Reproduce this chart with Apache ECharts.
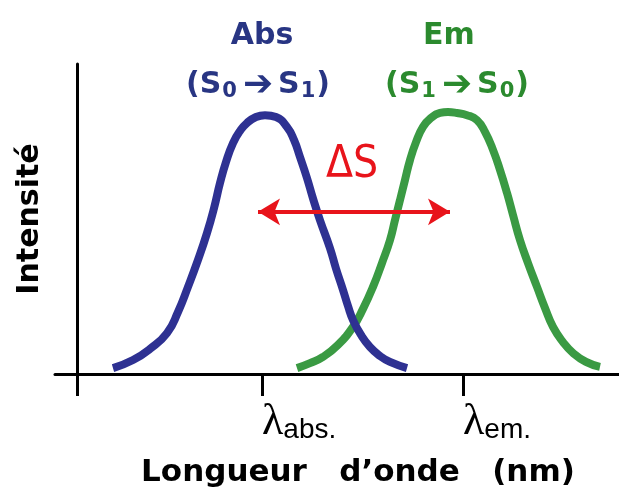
<!DOCTYPE html>
<html>
<head>
<meta charset="utf-8">
<script src="https://cdn.jsdelivr.net/npm/echarts@6/dist/echarts.min.js"></script>
<style>
html,body{margin:0;padding:0;background:#fff;}
#c{width:619px;height:493px;}
</style>
</head>
<body>
<div id="c"></div>
<script>
// Wavelength axis in arbitrary units (0 = intensity axis)
const xRange = [-22, 542];
const yRange = [0, 100];
const tickValues = [0, 185, 386];
const labelValues = [185, 386];
const labelSubs = ['abs.', 'em.'];

// Absorption band (S0 -> S1)
const absX = [36, 56, 73, 90, 101, 111, 121, 130, 137, 143, 149, 156, 163, 170, 179, 188, 199, 210, 217, 223, 230, 236, 243, 253, 259, 266, 271, 276, 284, 293, 303, 313, 330];
const absY = [1.9, 4.5, 8.1, 13.2, 20.0, 28.1, 36.8, 45.5, 53.5, 61.6, 68.4, 74.5, 78.4, 81.0, 82.9, 83.5, 82.9, 79.7, 75.5, 70.0, 63.2, 56.6, 49.6, 40.6, 34.0, 27.1, 21.9, 17.4, 12.6, 8.7, 5.8, 3.9, 1.9];

// Emission band (S1 -> S0)
const emX = [220, 233, 246, 261, 276, 286, 296, 305, 313, 318, 323, 328, 333, 339, 346, 354, 363, 371, 380, 390, 400, 408, 416, 423, 430, 436, 443, 451, 460, 468, 476, 486, 496, 509, 523];
const emY = [1.9, 3.5, 5.5, 9.4, 15.2, 21.0, 28.1, 35.8, 43.2, 49.7, 56.1, 62.6, 69.0, 74.8, 79.7, 82.6, 84.2, 84.5, 84.2, 83.5, 81.9, 78.1, 72.3, 65.8, 58.4, 51.3, 43.2, 35.8, 28.1, 21.3, 15.2, 10.3, 6.8, 3.9, 2.3];

// Stokes shift arrow
const shiftFrom = 181, shiftTo = 373, shiftY = 52.3;

const absData = absX.map((x, i) => [x, absY[i]]);
const emData = emX.map((x, i) => [x, emY[i]]);

const chart = echarts.init(document.getElementById('c'), null, {renderer: 'canvas'});
const navy = '#2E3192', green = '#3A9A43', red = '#E8141B';
const bold = 'DejaVu Sans';
const subRich = function (col) {
  return {
    m: {fontFamily: bold, fontWeight: 'bold', fontSize: 30, fill: col, verticalAlign: 'top', lineHeight: 30},
    a: {fontFamily: bold, fontWeight: 'bold', fontSize: 36, fill: col, verticalAlign: 'middle', lineHeight: 30, padding: [0, 5, 0, 5]},
    s: {fontFamily: bold, fontWeight: 'bold', fontSize: 21, fill: col, verticalAlign: 'bottom', lineHeight: 32, padding: [0, 1, 0, 1]}
  };
};

chart.setOption({
  animation: false,
  backgroundColor: '#fff',
  grid: {left: 55, right: 0, top: 64, bottom: 119, containLabel: false, outerBoundsMode: 'none'},
  xAxis: {
    type: 'value', min: xRange[0], max: xRange[1],
    splitLine: {show: false},
    axisLine: {lineStyle: {color: '#000', width: 3}},
    axisTick: {show: true, customValues: tickValues, length: 22, inside: false, lineStyle: {color: '#000', width: 3}},
    axisLabel: {
      customValues: labelValues,
      align: 'left',
      margin: 30,
      formatter: function (v) {
        const i = labelValues.indexOf(v);
        return i < 0 ? '' : '{l|λ}{s|' + labelSubs[i] + '}';
      },
      rich: {
        l: {fontFamily: 'Liberation Serif', fontSize: 44, color: '#000', verticalAlign: 'bottom', lineHeight: 40},
        s: {fontFamily: 'Liberation Sans', fontSize: 28, color: '#000', verticalAlign: 'bottom', lineHeight: 40}
      }
    },
    name: 'Longueur   d’onde   (nm)',
    nameLocation: 'middle',
    nameGap: 83,
    nameTextStyle: {fontFamily: bold, fontWeight: 'bold', fontSize: 31, color: '#000', padding: [0, 0, 0, 42]}
  },
  yAxis: {
    type: 'value', min: yRange[0], max: yRange[1],
    splitLine: {show: false},
    axisLine: {onZero: true, lineStyle: {color: '#000', width: 3}},
    axisTick: {show: false},
    axisLabel: {show: false},
    name: 'Intensité',
    nameLocation: 'middle',
    nameRotate: 90,
    nameGap: 10,
    nameTextStyle: {fontFamily: bold, fontWeight: 'bold', fontSize: 30, color: '#000'}
  },
  series: [
    {
      name: 'Abs', type: 'line', data: absData, smooth: true, showSymbol: false,
      lineStyle: {color: navy, width: 8}, z: 3
    },
    {
      name: 'Em', type: 'line', data: emData, smooth: true, showSymbol: false,
      lineStyle: {color: green, width: 8}, z: 2,
      markLine: {
        silent: true,
        symbol: ['arrow', 'arrow'],
        symbolSize: [20, 22],
        label: {show: false},
        lineStyle: {color: red, width: 4, type: 'solid'},
        data: [[{coord: [shiftFrom, shiftY]}, {coord: [shiftTo, shiftY]}]]
      }
    }
  ],
  graphic: [
    {type: 'text', x: 262, y: 36, z: 10, style: {text: 'Abs', fontFamily: bold, fontWeight: 'bold', fontSize: 30, fill: '#283583', align: 'center', verticalAlign: 'middle'}},
    {type: 'text', x: 258, y: 86, z: 10, style: {
      text: '{m|(S}{s|0}{a|➔}{m|S}{s|1}{m|)}', align: 'center', verticalAlign: 'middle', fill: '#283583',
      rich: subRich('#283583')
    }},
    {type: 'text', x: 449, y: 36, z: 10, style: {text: 'Em', fontFamily: bold, fontWeight: 'bold', fontSize: 30, fill: '#2B8A2E', align: 'center', verticalAlign: 'middle'}},
    {type: 'text', x: 457, y: 86, z: 10, style: {
      text: '{m|(S}{s|1}{a|➔}{m|S}{s|0}{m|)}', align: 'center', verticalAlign: 'middle', fill: '#2B8A2E',
      rich: subRich('#2B8A2E')
    }},
    {type: 'text', x: 352, y: 166, z: 10, style: {text: 'ΔS', fontFamily: 'DejaVu Sans Condensed, Liberation Sans Narrow, Liberation Sans', fontSize: 44, fill: red, align: 'center', verticalAlign: 'middle'}}
  ]
});
</script>
</body>
</html>
